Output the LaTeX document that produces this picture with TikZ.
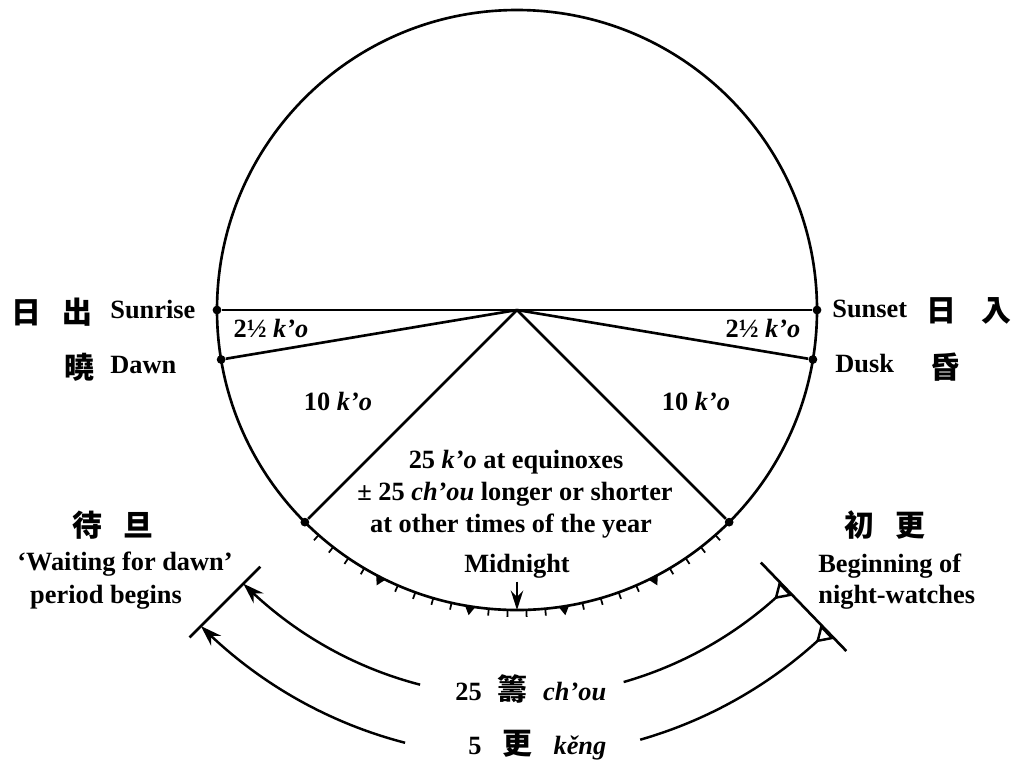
\documentclass[tikz,border=0pt]{standalone}
\usepackage{fontspec}
\setmainfont{Liberation Serif}
\newfontfamily\cjk{Noto Sans CJK TC}
\usetikzlibrary{arrows.meta, bending}

\begin{document}
\begin{tikzpicture}[
  x=0.02cm, y=-0.02cm,
  word/.style={inner sep=0pt, font=\bfseries\fontsize{15}{18}\selectfont},
  hanzi/.style={inner sep=0pt, font=\cjk\bfseries\fontsize{17}{20}\selectfont},
  spot/.style={circle, fill, inner sep=0pt, minimum size=5pt},
  ray/.style={line width=1.5pt},
  notch/.style={line width=1pt},
  watch/.style={line width=1.4pt}
]
  \useasboundingbox (0,0) rectangle (1016,762);

  \begin{scope}[shift={(517,310)}]
    \coordinate (c) at (0,0);
    \draw[ray] (c) circle[radius=300];
    \node[spot] (rise) at (180:300) {};
    \node[spot] (dawn) at (170.5:300) {};
    \node[spot] (set) at (0:300) {};
    \node[spot] (dusk) at (9.5:300) {};
    \node[spot] (morn) at (135:300) {};
    \node[spot] (eve) at (45:300) {};
    \coordinate (mid) at (90:300);

    \draw[ray] (rise) -- (set);
    \draw[ray] (c) -- (dawn);
    \draw[ray] (c) -- (dusk);
    \draw[ray] (c) -- (morn);
    \draw[ray] (c) -- (eve);

    \foreach \k in {1,...,24}
      \draw[notch] ({45+3.6*\k}:300) -- ({45+3.6*\k}:307);
    \foreach \k in {5,10,15,20}
      \fill ({45+3.6*\k-1}:300) -- ({45+3.6*\k}:309) -- ({45+3.6*\k+1}:300) -- cycle;

    \coordinate (waitA) at (135:363);
    \coordinate (waitB) at (135:463);
    \coordinate (beginA) at (46:351);
    \coordinate (beginB) at (46:474);
    \draw[ray] (waitA) -- (waitB);
    \draw[ray] (beginA) -- (beginB);

    \draw[watch, {Triangle[open, reversed, length=9pt, width=11pt, bend]}-]
      (46:387) arc[start angle=46, end angle=74, radius=387];
    \draw[watch, -{Stealth[length=12pt, width=8pt]}]
      (104.5:387) arc[start angle=104.5, end angle=135, radius=387];
    \draw[watch, {Triangle[open, reversed, length=9pt, width=11pt, bend]}-]
      (46:447) arc[start angle=46, end angle=74, radius=447];
    \draw[watch, -{Stealth[length=12pt, width=8pt]}]
      (104.5:447) arc[start angle=104.5, end angle=135, radius=447];
  \end{scope}

  \node[hanzi] (hRise) at (52,312) {日\hspace{12.5pt}出};
  \node[word, anchor=base west] (tRise) at (110,318) {Sunrise};
  \node[hanzi] (hDawn) at (79,367) {曉};
  \node[word, anchor=base west] (tDawn) at (110,373) {Dawn};
  \node[word, anchor=base west] (tSet) at (832,317) {Sunset};
  \node[hanzi] (hSet) at (969,311) {日\hspace{14pt}入};
  \node[word, anchor=base west] (tDusk) at (835,372) {Dusk};
  \node[hanzi] (hDusk) at (945,367) {昏};

  \node[word, anchor=base] (kLeft) at (271,337) {2½ \textit{k’o}};
  \node[word, anchor=base] (kRight) at (763,337) {2½ \textit{k’o}};
  \node[word, anchor=base] (tenLeft) at (338,410) {10 \textit{k’o}};
  \node[word, anchor=base] (tenRight) at (696,410) {10 \textit{k’o}};

  \node[word, anchor=base] (eq1) at (516,468) {25 \textit{k’o} at equinoxes};
  \node[word, anchor=base] (eq2) at (515,500) {± 25 \textit{ch’ou} longer or shorter};
  \node[word, anchor=base] (eq3) at (511,532) {at other times of the year};
  \node[word, anchor=base] (midn) at (517,572) {Midnight};
  \draw[ray, -{Stealth[length=11pt, width=7pt]}, shorten <=2pt] (midn.south) -- (mid);

  \node[hanzi] (hWait) at (113,525) {待\hspace{12.5pt}旦};
  \node[word, anchor=base] (tWait1) at (125,570) {‘Waiting for dawn’};
  \node[word, anchor=base] (tWait2) at (106,603) {period begins};
  \node[hanzi] (hBegin) at (885,525) {初\hspace{12.5pt}更};
  \node[word, anchor=base west] (tBegin1) at (818,572) {Beginning of};
  \node[word, anchor=base west] (tBegin2) at (818,603) {night-watches};

  \node[word, anchor=base west] (chou) at (455,700)
    {25\hspace{9pt}{\cjk\bfseries\fontsize{17}{20}\selectfont 籌}\hspace{9pt}\textit{ch’ou}};
  \node[word, anchor=base west] (keng) at (468,754)
    {5\hspace{12pt}{\cjk\bfseries\fontsize{17}{20}\selectfont 更}\hspace{12pt}\textit{kěng}};
\end{tikzpicture}
\end{document}
